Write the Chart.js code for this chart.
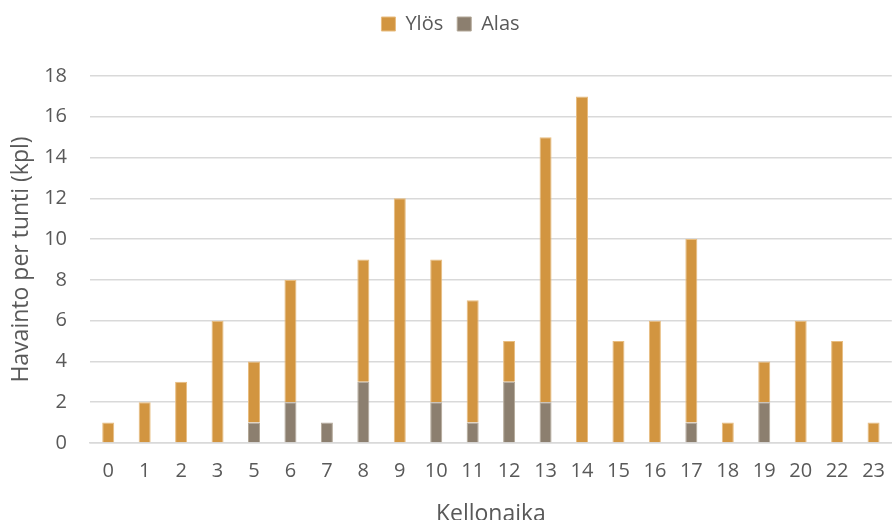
<!DOCTYPE html>
<html>
<head>
<meta charset="utf-8">
<script src="https://cdn.jsdelivr.net/npm/chart.js@4.4.1/dist/chart.umd.min.js"></script>
<style>
  html, body { margin: 0; padding: 0; background: #ffffff; overflow: hidden; }
  #wrap { position: relative; width: 901px; height: 535px; }
</style>
</head>
<body>
<div id="wrap"><canvas id="chart"></canvas></div>
<script>
// Hours of the day with observations
const hours = ['0','1','2','3','5','6','7','8','9','10','11','12','13','14','15','16','17','18','19','20','22','23'];
// Observations per hour, upward
const ylos = [1, 2, 3, 6, 3, 6, 0, 6, 12, 7, 6, 2, 13, 17, 5, 6, 9, 1, 2, 6, 5, 1];
// Observations per hour, downward
const alas = [0, 0, 0, 0, 1, 2, 1, 3, 0, 2, 1, 3, 2, 0, 0, 0, 1, 0, 2, 0, 0, 0];
const yTicks = [0, 2, 4, 6, 8, 10, 12, 14, 16, 18];

const FONT = '"Open Sans", Lato, sans-serif';
const TEXT = '#595959';

// Reserve a fixed band for the legend above the plot area
const legendBand = {
  id: 'legendBand',
  beforeInit(chart) {
    const lg = chart.legend;
    if (!lg) return;
    const fit = lg.fit.bind(lg);
    lg.fit = function () { fit(); this.height = 76; };
  }
};

new Chart(document.getElementById('chart'), {
  type: 'bar',
  data: {
    labels: hours,
    datasets: [
      { label: 'Alas', data: alas, backgroundColor: '#8C7F6F', borderColor: '#B3A898', borderWidth: 1, borderSkipped: 'bottom', categoryPercentage: 0.33, barPercentage: 1 },
      { label: 'Ylös', data: ylos, backgroundColor: '#D29540', borderColor: '#E8BD80', borderWidth: 1, borderSkipped: 'bottom', categoryPercentage: 0.33, barPercentage: 1 }
    ]
  },
  plugins: [legendBand],
  options: {
    responsive: true,
    maintainAspectRatio: false,
    animation: false,
    layout: { padding: 0 },
    plugins: {
      legend: {
        position: 'top',
        reverse: true,
        labels: { boxWidth: 14, boxHeight: 14, color: TEXT, font: { family: FONT, size: 20, lineHeight: 1 }, padding: 14 }
      },
      tooltip: { enabled: false }
    },
    scales: {
      x: {
        stacked: true,
        grid: { display: false, drawTicks: false },
        border: { display: true, color: '#D9D9D9', width: 1.5 },
        ticks: { color: TEXT, font: { family: FONT, size: 20 }, padding: 16, maxRotation: 0, autoSkip: false },
        title: { display: true, text: 'Kellonaika', color: TEXT, font: { family: FONT, size: 23 }, padding: { top: 0, bottom: 7 } },
        afterFit(axis) { axis.height = 92; }
      },
      y: {
        stacked: true,
        min: 0, max: 18,
        afterBuildTicks: (axis) => { axis.ticks = yTicks.map(v => ({ value: v })); },
        grid: { color: '#D9D9D9', lineWidth: 1.5, drawTicks: false },
        border: { display: false },
        ticks: { color: TEXT, font: { family: FONT, size: 20 }, padding: 23 },
        title: { display: true, text: 'Havainto per tunti (kpl)', color: TEXT, font: { family: FONT, size: 23 }, padding: { top: 8, bottom: 0 } },
        afterFit(axis) { axis.width = 90; }
      }
    }
  }
});
</script>
</body>
</html>
